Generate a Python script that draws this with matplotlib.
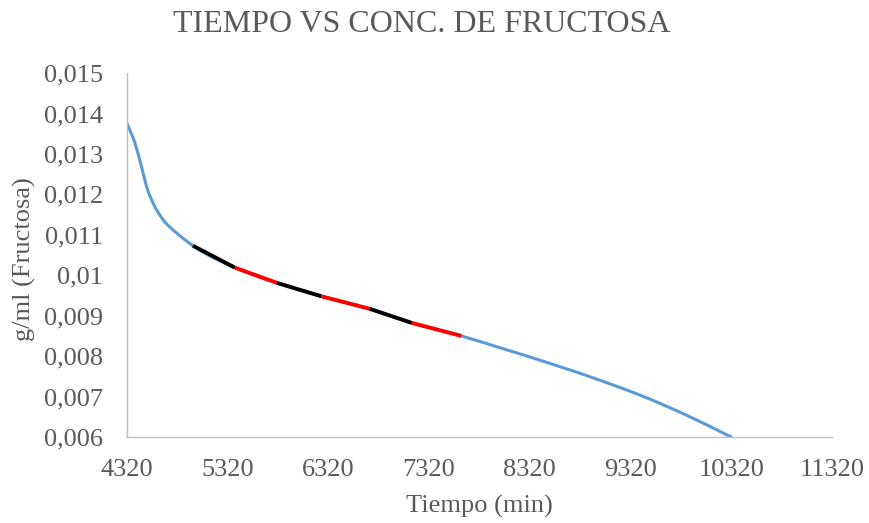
import matplotlib
matplotlib.use("Agg")
import matplotlib.pyplot as plt
import numpy as np
from matplotlib.path import Path
from matplotlib.patches import PathPatch

# Fructose concentration over time (smoothed series)
tiempo = [4320, 4400, 4465, 4515, 4580, 4680, 4815, 4975, 5390, 5810, 6250,
          6730, 7150, 7640, 8020, 8520, 9020, 9410, 9910, 10320]
fructosa = [0.01376, 0.01326, 0.01268, 0.01219, 0.01178, 0.01137, 0.01104,
            0.01073, 0.01019, 0.00981, 0.00948, 0.00917, 0.00882, 0.00850,
            0.00821, 0.00782, 0.00740, 0.00704, 0.00650, 0.00600]

# Highlighted linear segments
seg_tiempo = [4975, 5390, 5810, 6250, 6730, 7150, 7640]
seg_fructosa = [0.01073, 0.01019, 0.00981, 0.00948, 0.00917, 0.00882, 0.00850]
seg_colors = ["black", "red", "black", "red", "black", "red"]

x_ticks = [4320, 5320, 6320, 7320, 8320, 9320, 10320, 11320]
y_ticks = [0.006, 0.007, 0.008, 0.009, 0.010, 0.011, 0.012, 0.013, 0.014, 0.015]
y_labels = ["0,006", "0,007", "0,008", "0,009", "0,01", "0,011", "0,012",
            "0,013", "0,014", "0,015"]

plt.rcParams['font.family'] = ['Liberation Serif', 'DejaVu Serif']
text_color = "#595959"
axis_color = "#BFBFBF"

fig = plt.figure(figsize=(8.69, 5.23), dpi=100)
ax = fig.add_axes([0.1461, 0.1644, 0.9574 - 0.1461, 0.8604 - 0.1644])


def smooth_path(xs, ys):
    """Cubic Hermite Bezier path through the points with weighted slopes."""
    x = np.asarray(xs, float)
    y = np.asarray(ys, float)
    h = np.diff(x)
    d = np.diff(y) / h
    m = np.empty_like(x)
    m[0], m[-1] = d[0], d[-1]
    m[1:-1] = (h[:-1] * d[1:] + h[1:] * d[:-1]) / (h[:-1] + h[1:])
    verts = [(x[0], y[0])]
    codes = [Path.MOVETO]
    for i in range(len(x) - 1):
        dx = h[i] / 3
        verts += [(x[i] + dx, y[i] + m[i] * dx),
                  (x[i + 1] - dx, y[i + 1] - m[i + 1] * dx),
                  (x[i + 1], y[i + 1])]
        codes += [Path.CURVE4] * 3
    return Path(verts, codes)


ax.add_patch(PathPatch(smooth_path(tiempo, fructosa), facecolor="none",
                       edgecolor="#5B9BD5", lw=2.2, capstyle="round", zorder=2))

for i, c in enumerate(seg_colors):
    ax.plot(seg_tiempo[i:i + 2], seg_fructosa[i:i + 2], color=c, lw=2.8,
            solid_capstyle="butt", zorder=3)

ax.set_xlim(4320, 11320)
ax.set_ylim(0.006, 0.015)
ax.set_xticks(x_ticks)
ax.set_xticklabels([str(v) for v in x_ticks])
ax.set_yticks(y_ticks)
ax.set_yticklabels(y_labels)

for side in ["top", "right"]:
    ax.spines[side].set_visible(False)
for side in ["left", "bottom"]:
    ax.spines[side].set_color(axis_color)
    ax.spines[side].set_linewidth(1.0)

ax.tick_params(axis="both", length=0, labelsize=19, labelcolor=text_color)
ax.tick_params(axis="y", pad=17)
ax.tick_params(axis="x", pad=16)

ax.set_xlabel("Tiempo (min)", fontsize=19, color=text_color, labelpad=10)
ax.set_ylabel("g/ml (Fructosa)", fontsize=19, color=text_color, va="center")
ax.yaxis.set_label_coords(-0.1447, 0.49)

fig.text(422 / 869, 1 - 24 / 523, "TIEMPO VS CONC. DE FRUCTOSA", fontsize=23,
         color=text_color, ha="center", va="center")

fig.savefig("out.png", dpi=100)
